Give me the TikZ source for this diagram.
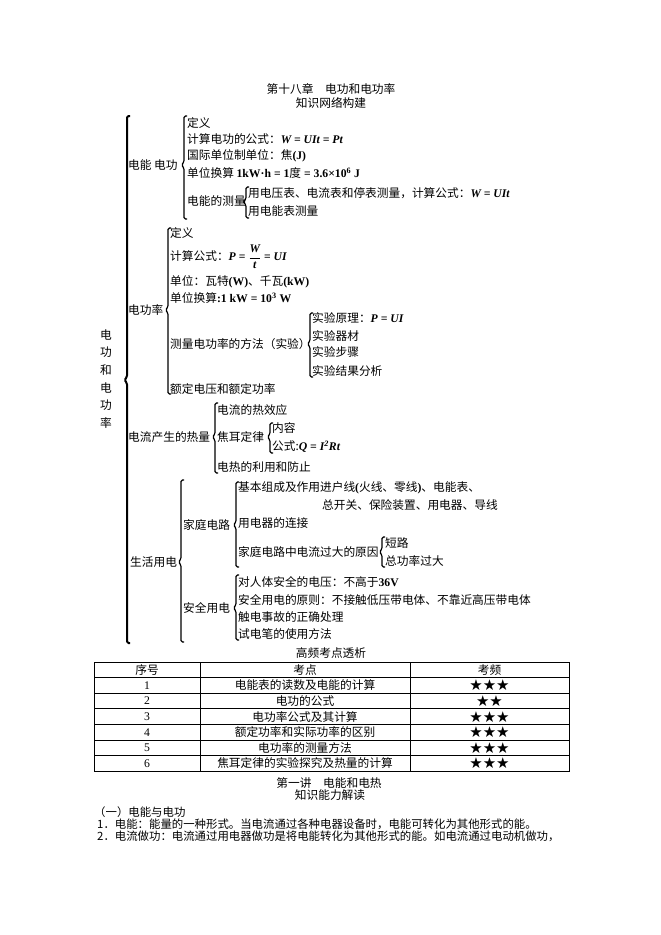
\documentclass[tikz,border=0pt]{standalone}
\usepackage{fontspec}
\setmainfont{Noto Sans CJK SC}
\newfontfamily\tnr{Liberation Serif}
\newfontfamily\symf{DejaVu Sans}
\newcommand{\fm}[1]{{\tnr\bfseries\itshape #1}}
\newcommand{\bu}[1]{{\tnr\bfseries #1}}
%% left bracket: x, top, middle, bottom
\newcommand{\brkt}[5][]{\draw[brc,#1] ({#2+3},#3) -| (#2,{#4-3}) -- ({#2-2.5},#4) -- (#2,{#4+3}) |- ({#2+3},#5);}
\tikzset{
  item/.style={anchor=west,inner sep=0pt},
  ctr/.style={anchor=center,inner sep=0pt},
  brc/.style={line width=1.2pt,rounded corners=1.5pt},
  bigbrc/.style={line width=2pt},
  small/.style={font=\fontsize{11.4}{13}\selectfont},
  stars/.style={font=\fontsize{15}{16}\selectfont\symf}
}
\begin{document}
\begin{tikzpicture}[x=1pt,y=-1pt,font=\fontsize{11.7}{14}\selectfont]
        \fill[white] (0,0) rectangle (661,935);
        \useasboundingbox (0,0) rectangle (661,935);
        %% titles
        \node[ctr] (title) at (331,89) {第十八章　电功和电功率};
        \node[ctr] (sub) at (331,103) {知识网络构建};
        %% main bracket
        \foreach \c [count=\i] in {电,功,和,电,功,率}
            \node[ctr] (v\i) at (106,{317.4+17.6*\i}) {\c};
        \brkt[bigbrc]{127}{116}{380}{643}
        %% 电能 电功
        \node[item] (dg) at (128,165) {电能 电功};
        \brkt{184}{116}{165}{219}
        \node[item] (dg1) at (187,123) {定义};
        \node[item] (dg2) at (187,139) {计算电功的公式：\fm{W = UIt = Pt}};
        \node[item] (dg3) at (187,156) {国际单位制单位：焦\bu{(J)}};
        \node[item] (dg4) at (187,173) {单位换算 \bu{1kW·h = 1}度\bu{ = 3.6×10\textsuperscript{6} J}};
        \node[item] (dg5) at (187,201) {电能的测量};
        \brkt{246}{187}{202}{218}
        \node[item] (dg51) at (248,193) {用电压表、电流表和停表测量，计算公式：\fm{W = UIt}};
        \node[item] (dg52) at (248,211) {用电能表测量};
        %% 电功率
        \node[item] (gl) at (128,310) {电功率};
        \brkt{168}{228}{310}{394}
        \node[item] (gl1) at (170,233) {定义};
        \node[item] (gl2) at (170,257) {计算公式：\fm{P}\bu{ = }$\displaystyle\frac{\hbox{\fm{W}}}{\hbox{\fm{t}}}$\bu{ = }\fm{UI}};
        \node[item] (gl3) at (170,282) {单位：瓦特\bu{(W)}、千瓦\bu{(kW)}};
        \node[item] (gl4) at (170,298) {单位换算\bu{:1 kW = 10\textsuperscript{3} W}};
        \node[item] (gl5) at (170,344) {测量电功率的方法（实验）};
        \node[item] (gl6) at (170,389) {额定电压和额定功率};
        \brkt{310}{313}{344}{377}
        \node[item] (gl51) at (312,318) {实验原理：\fm{P = UI}};
        \node[item] (gl52) at (312,336) {实验器材};
        \node[item] (gl53) at (312,352) {实验步骤};
        \node[item] (gl54) at (312,371) {实验结果分析};
        %% 电流产生的热量
        \node[item] (rl) at (128,437) {电流产生的热量};
        \brkt{215}{403}{437}{473}
        \node[item] (rl1) at (217,410) {电流的热效应};
        \node[item] (rl2) at (217,437) {焦耳定律};
        \node[item] (rl3) at (217,467) {电热的利用和防止};
        \brkt{270}{423}{437}{453}
        \node[item] (rl21) at (272,428) {内容};
        \node[item] (rl22) at (272,447) {公式:\fm{Q = I\textsuperscript{2}Rt}};
        %% 生活用电
        \node[item] (sh) at (130,562) {生活用电};
        \brkt{181}{480}{562}{642}
        \node[item] (jt) at (183,525) {家庭电路};
        \brkt{236}{482}{525}{567}
        \node[item] (jt1) at (238,488) {基本组成及作用进户线\bu{(}火线、零线\bu{)}、电能表、};
        \node[item] (jt1b) at (322,505) {总开关、保险装置、用电器、导线};
        \node[item] (jt2) at (238,523) {用电器的连接};
        \node[item] (jt3) at (238,552) {家庭电路中电流过大的原因};
        \brkt{382}{537}{552}{567}
        \node[item] (jt31) at (385,543) {短路};
        \node[item] (jt32) at (385,561) {总功率过大};
        \node[item] (aq) at (183,608) {安全用电};
        \brkt{236}{575}{608}{640}
        \node[item] (aq1) at (238,582) {对人体安全的电压：不高于\bu{36V}};
        \node[item] (aq2) at (238,600) {安全用电的原则：不接触低压带电体、不靠近高压带电体};
        \node[item] (aq3) at (238,617) {触电事故的正确处理};
        \node[item] (aq4) at (238,634) {试电笔的使用方法};
        %% table
        \node[ctr] (tt) at (331,653) {高频考点透析};
        \draw[line width=0.9pt] (94,662) rectangle (569,771.2);
        \foreach \i in {1,...,6}
            \draw[line width=0.9pt] (94,{662+15.6*\i}) -- (569,{662+15.6*\i});
        \foreach \x in {200,410}
            \draw[line width=0.9pt] (\x,662) -- (\x,771.2);
        \node[ctr] (h1) at (147,669.8) {序号};
        \node[ctr] (h2) at (305,669.8) {考点};
        \node[ctr] (h3) at (489.5,669.8) {考频};
        \foreach \t/\s [count=\i] in {电能表的读数及电能的计算/★★★, 电功的公式/★★, 电功率公式及其计算/★★★,
            额定功率和实际功率的区别/★★★, 电功率的测量方法/★★★, 焦耳定律的实验探究及热量的计算/★★★}{
            \node[ctr] (n\i) at (147,{669.8+15.6*\i}) {{\tnr\i}};
            \node[ctr] (k\i) at (305,{669.8+15.6*\i}) {\t};
            \node[ctr,stars] (p\i) at (489.5,{669.8+15.6*\i}) {\s};
        }
        %% text below
        \node[ctr] (l1) at (329,783) {第一讲　电能和电热};
        \node[ctr] (l2) at (330,795.5) {知识能力解读};
        \node[item,small] (p0) at (94,812) {（一）电能与电功};
        \node[item,small] (pa) at (97,824) {1．电能：能量的一种形式。当电流通过各种电器设备时，电能可转化为其他形式的能。};
        \node[item,small] (pb) at (97,836) {2．电流做功：电流通过用电器做功是将电能转化为其他形式的能。如电流通过电动机做功，};
    \end{tikzpicture}
\end{document}
